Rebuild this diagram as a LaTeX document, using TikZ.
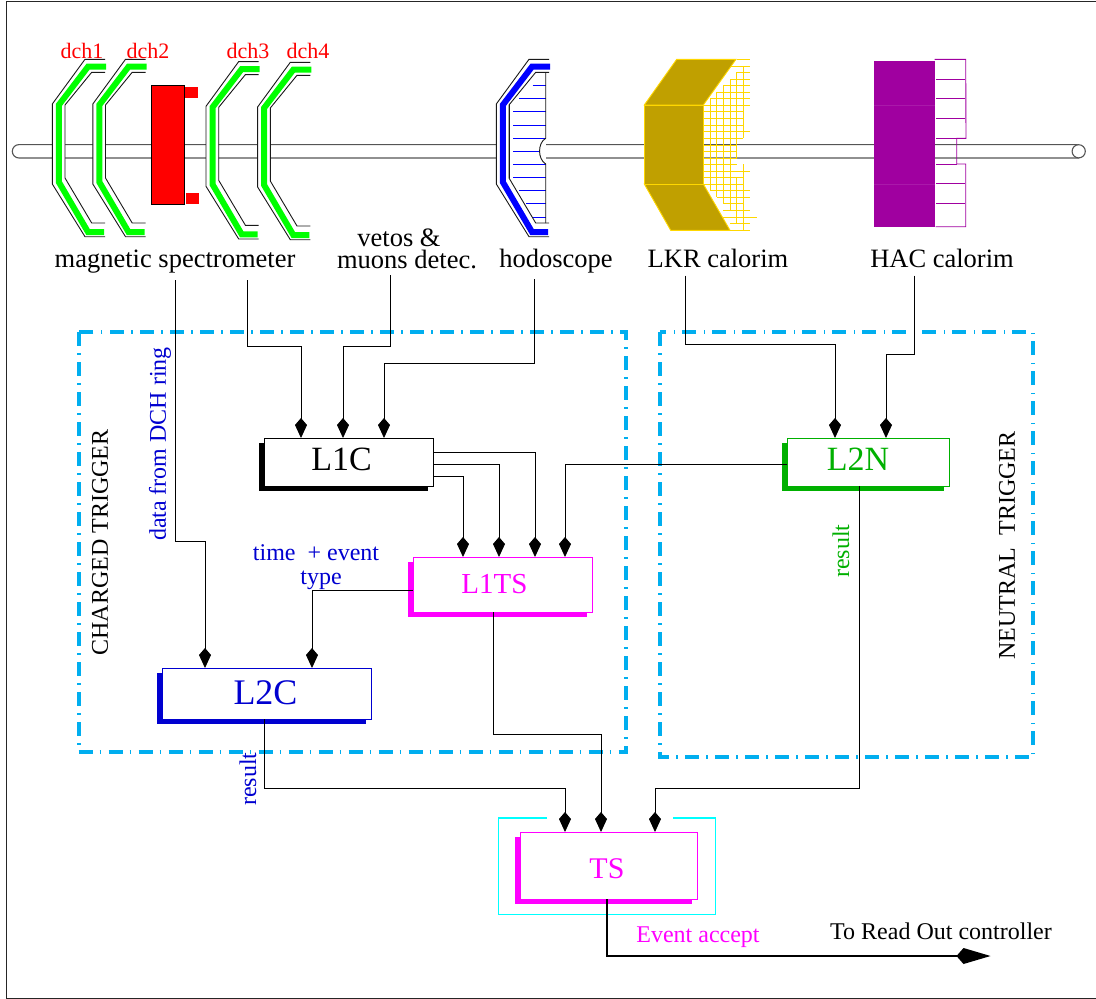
\documentclass[tikz,border=0pt]{standalone}
\usepackage{fontspec}
\setmainfont{Liberation Serif}
\usetikzlibrary{arrows.meta,shadows,calc}
\definecolor{trigblue}{HTML}{00AEEF}
\definecolor{pipegray}{HTML}{555555}
\definecolor{gold}{HTML}{C0A000}
\definecolor{goldline}{HTML}{FFD700}
\definecolor{hacpurple}{HTML}{A000A0}
\definecolor{ngreen}{HTML}{00B000}
\definecolor{cblue}{HTML}{0000D0}
\definecolor{mag}{HTML}{FF00FF}
\definecolor{cyn}{HTML}{00FFFF}
\definecolor{grn}{HTML}{00FF00}
\definecolor{rd}{HTML}{FF0000}
\definecolor{blu}{HTML}{0000FF}
\newcommand{\fs}[1]{\fontsize{#1}{#1}\selectfont}
\newcommand{\chamberdraw}[3]{%
 \begin{scope}[shift={(#1,#2)}]
  \fill[white] (105,59.3)--(85,59.3)--(52.3,104)--(52.3,184)--(85,236.7)--(105,236.7)--(105,223)--(91.7,223)--(65,178)--(65,105)--(91.7,72.3)--(105,72.3)--cycle;
  \draw[outl] (105,59.3)--(85,59.3)--(52.3,104)--(52.3,184)--(85,236.7)--(105,236.7);
  \draw[outl] (105,72.3)--(91.7,72.3)--(65,105)--(65,178)--(91.7,223)--(105,223);
  \draw[#3,line width=6pt] (106,66.7)--(88,66.7)--(58.8,105)--(58.8,182)--(88,232)--(104,232);
 \end{scope}}
\tikzset{
 outl/.style={draw=black!90,line width=0.9pt},
 pipe/.style={draw=pipegray,line width=1.1pt},
 conn/.style={draw=black,line width=0.9pt,-{Kite[length=20pt,width=12pt,inset=7pt]}},
 fromlabel/.style={shorten <=#1},
 trig/.style={draw=trigblue,line width=4pt,dash pattern=on 14pt off 7pt on 1.5pt off 7.5pt},
 lab/.style={inner sep=0pt,font=\fs{#1}},
 tbox/.style={rectangle,inner sep=0pt,outer sep=0pt,draw=#1,fill=white,line width=0.7pt,text=#1,
   general shadow={fill=#1,draw=none,shadow xshift=-5.5pt,shadow yshift=-4.5pt}},
 yl/.style={draw=goldline,line width=1pt},
 pl/.style={draw=hacpurple,line width=0.9pt},
}
\begin{document}
\begin{tikzpicture}[x=1pt,y=-1pt]
\useasboundingbox (0,0) rectangle (1096,999);
% frame
\draw[black!85,line width=1pt] (1100,1) -- (6,1) -- (6,998) -- (1100,998);
% pipe
\draw[pipe] (1079,144.6) -- (19,144.6) arc[start angle=270,end angle=90,radius=6.7] -- (1079,158);
\draw[pipe,fill=white] (1078.7,151.3) circle[radius=6.6];
% chambers
\chamberdraw{0}{0}{grn}
\chamberdraw{40.5}{0}{grn}
\chamberdraw{153.7}{2.3}{grn}
\chamberdraw{205.3}{3}{grn}
% magnet
\fill[rd] (185,86.5) rectangle (198,97.7);
\fill[rd] (186,193) rectangle (199,204);
\draw[black,fill=rd,line width=0.8pt] (151,85) rectangle (184,204);
% hodoscope
\chamberdraw{444}{0}{blu}
\fill[white] (510,106) rectangle (545.7,176);
\foreach \yy/\xx/\xe in {85.3/532.7/545.7,98.7/519.3/545.7,111.7/513/545.7,125/513/545.7,138.3/513/545.7,151.3/513/539.5,164.3/513/545.7,177.3/513/545.7,190.7/519.3/545.7,203.7/526/545.7,217/532.7/545.7}
  \draw[blu,line width=0.8pt] (\xx,\yy) -- (\xe,\yy);
\draw[outl] (545.7,72.3) -- (545.7,138.3) .. controls (537.5,143) and (537.5,159) .. (545.7,164) -- (545.7,223);
\draw[outl] (509,105) -- (509,178);
% LKR grid
\foreach \yy/\xa/\xb in {78/750/810,97/770/810,117/750/810,137/730/810,156/710/810,176/690/810,196/670/810,215/670/790,235/670/790,255/670/790,275/670/810,295/670/790,315/670/770,334/670/770,354/670/770,373/670/770,393/670/810,412/670/790,432/670/790,452/690/810,471/710/810,491/730/790,511/730/810,531/730/830,551/750/810,571/750/810,58/770/810}
  \draw[yl] ({480+\xa/3},{40+\yy/3}) -- ({480+\xb/3},{40+\yy/3});
\foreach \xx/\ya/\yb in {690/176/452,710/156/471,730/137/491,750/117/511,770/97/354,770/412/551,790/78/295,790/373/571}
  \draw[yl] ({480+\xx/3},{40+\ya/3}) -- ({480+\xx/3},{40+\yb/3});
% LKR body
\begin{scope}[draw=goldline,fill=gold,line width=0.9pt]
\filldraw (644.3,105) -- (676.7,59.3) -- (736,59.3) -- (703.3,105) -- cycle;
\filldraw (644.3,184) -- (670.7,230.3) -- (730,230.3) -- (703.3,184) -- cycle;
\filldraw (644.3,105) rectangle (703.3,184);
\end{scope}
% HAC
\fill[white] (935.5,146) rectangle (954,157);
\fill[hacpurple] (874,60.7) rectangle (934.7,226.7);
\draw[hacpurple!90!white,line width=0.5pt] (874,105.3) -- (934.7,105.3) (874,184) -- (934.7,184);
\draw[pl] (934.7,59.3) -- (965.7,59.3) -- (966,138.3) -- (956.7,138.3) -- (956.7,164) -- (965.7,164) -- (965.7,226.7) -- (935.5,226.7);
\foreach \yy/\xe in {79/965,98.7/965,118.7/965,138.3/956.7,164/956.7,183.3/965,203.3/965}
  \draw[pl] (936,\yy) -- (\xe,\yy);
% detector labels
\node[lab=22,text=rd] (d1) at (82,51) {dch1};
\node[lab=22,text=rd] (d2) at (148,51) {dch2};
\node[lab=22,text=rd] (d3) at (248,51) {dch3};
\node[lab=22,text=rd] (d4) at (308,51) {dch4};
\node[lab=26.5] (magn) at (175,261.5) {magnetic spectrometer};
\node[inner sep=0pt,font=\fontsize{26.5}{22}\selectfont,align=center] (vet) at (407,249) {\hspace*{-16pt}vetos \&\\muons detec.};
\node[lab=26.5] (hod) at (556,261) {hodoscope};
\node[lab=26.5] (lkr) at (718,258) {LKR calorim};
\node[lab=26.5] (hac) at (942,258) {HAC calorim};
% trigger areas
\draw[trig] (78.5,332) rectangle (626,752);
\draw[trig] (660,332) rectangle (1033,757);
% boxes
\node[tbox=black,minimum width=169pt,minimum height=48pt,font=\fs{34}] (L1C) at (348.5,462) {\raisebox{6pt}{L1C}\rule{14pt}{0pt}};
\node[tbox=ngreen,minimum width=162pt,minimum height=48pt,font=\fs{34}] (L2N) at (868,462) {\raisebox{5pt}{L2N}\rule{20pt}{0pt}};
\node[tbox=mag,minimum width=179pt,minimum height=55pt,font=\fs{29}] (L1TS) at (502.5,584.5) {L1TS\rule{16pt}{0pt}};
\node[tbox=cblue,minimum width=209pt,minimum height=51pt,font=\fs{36}] (L2C) at (266.5,693.5) {\raisebox{1pt}{L2C}\rule{2pt}{0pt}};
\node[tbox=mag,minimum width=177pt,minimum height=67pt,font=\fs{30}] (TS) at (609,865.5) {\raisebox{-3pt}[20pt][0pt]{TS}\rule{4pt}{0pt}};
\draw[cyn,line width=1.5pt] (547,818) -- (498.5,818) -- (498.5,914.5) -- (715.5,914.5) -- (715.5,818) -- (673,818);
% texts
\node[lab=24,text=cblue,rotate=90] (dch) at (160,444) {data from DCH ring};
\node[lab=24,text=cblue,align=center] (tim) at (316,567) {time \ + event\\\hspace*{10pt}type};
\node[lab=24,rotate=90] (cht) at (100,542.5) {CHARGED TRIGGER};
\node[lab=24,rotate=90] (nt) at (1007,545.5) {NEUTRAL\ \ TRIGGER};
\node[lab=24,text=ngreen,rotate=90] (r1) at (841,551) {result};
\node[lab=24,text=cblue,rotate=90] (r2) at (248,779) {result};
\node[lab=24,text=mag] (ev) at (698,937) {Event accept};
\node[lab=24] (ro) at (941,931) {To Read Out controller};
% connectors
\draw[conn,fromlabel=7pt] (175,0 |- magn.south) -- (175,541) -- (205,541) -- (205,0 |- L2C.north);
\draw[conn,fromlabel=7pt] (247,0 |- magn.south) -- (247,346) -- (301,346) -- (301,0 |- L1C.north);
\draw[conn,fromlabel=6pt] (390,0 |- vet.south) -- (390,346) -- (343,346) -- (343,0 |- L1C.north);
\draw[conn,fromlabel=6pt] (534,0 |- hod.south) -- (534,363) -- (384,363) -- (384,0 |- L1C.north);
\draw[conn,fromlabel=8pt] (685,0 |- lkr.south) -- (685,344) -- (835,344) -- (835,0 |- L2N.north);
\draw[conn,fromlabel=8pt] (914,0 |- hac.south) -- (914,354) -- (886,354) -- (886,0 |- L2N.north);
\draw[conn] (L1C.east |- 0,452) -- (535,452) -- (535,0 |- L1TS.north);
\draw[conn] (L1C.east |- 0,464) -- (499,464) -- (499,0 |- L1TS.north);
\draw[conn] (L1C.east |- 0,476) -- (463,476) -- (463,0 |- L1TS.north);
\draw[conn] (L2N.west |- 0,464) -- (565,464) -- (565,0 |- L1TS.north);
\draw[conn] (L1TS.west |- 0,590) -- (312,590) -- (312,0 |- L2C.north);
\draw[conn] (493,0 |- L1TS.south) -- (493,734) -- (601,734) -- (601,0 |- TS.north);
\draw[conn] (264,0 |- L2C.south) -- (264,788) -- (565,788) -- (565,0 |- TS.north);
\draw[conn] (859,0 |- L2N.south) -- (859,788) -- (655,788) -- (655,0 |- TS.north);
\coordinate (out) at (990.5,956);
\draw[draw=black,line width=1.8pt,-{Kite[length=34pt,width=16pt,inset=7pt]}] (607,0 |- TS.south) -- (607,956) -- (out);
\end{tikzpicture}
\end{document}
